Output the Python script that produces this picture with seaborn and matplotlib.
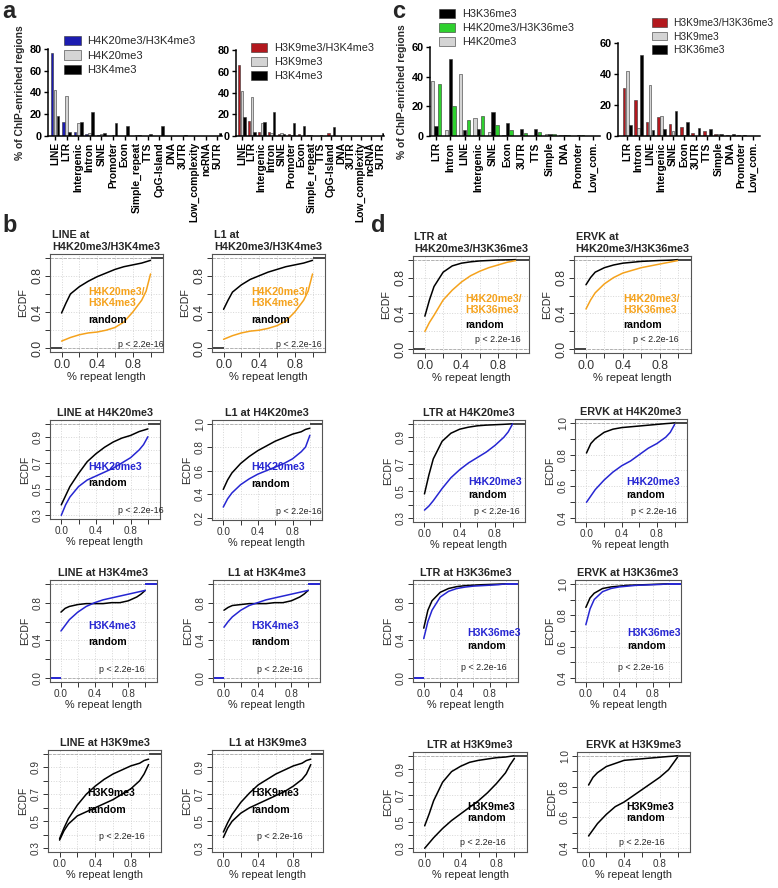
import matplotlib
matplotlib.use('Agg')
import matplotlib.pyplot as plt
import seaborn as sns
import pandas as pd
import numpy as np

# ---------------- panel a / c : % of ChIP-enriched regions ----------------
a_cats = ['LINE', 'LTR', 'Intergenic', 'Intron', 'SINE', 'Promoter', 'Exon',
          'Simple_repeat', 'TTS', 'CpG-Island', 'DNA', '3UTR', 'Low_complexity',
          'ncRNA', '5UTR']
a1_k20k4 = [76, 13, 4, 2, 1, 0.3, 0.2, 0.3, 0.1, 0.1, 0.1, 0.1, 0.1, 0, 0.1]
a1_k20 = [42, 37, 12, 3, 2, 0.5, 0.3, 1, 0.2, 0.2, 0.2, 0.2, 0.1, 0.1, 0.1]
a1_k4 = [18, 4, 13, 22, 2.5, 12, 9.5, 0.5, 1.5, 9, 0.3, 0.5, 0.3, 0.2, 2.5]
a2_k9k4 = [66, 14, 4, 4, 1.5, 2, 2, 0.5, 0.3, 2.5, 0.1, 0.1, 0.1, 0.2, 0.1]
a2_k9 = [42, 36, 12, 3, 2.5, 0.5, 0.3, 0.5, 1, 0.2, 0.2, 0.1, 0.1, 0.1, 0.1]
a2_k4 = [18, 4, 13, 22, 2, 12, 9, 0.3, 0.2, 8.5, 0.3, 0.3, 0.1, 0.1, 2.5]

c_cats = ['LTR', 'Intron', 'LINE', 'Intergenic', 'SINE', 'Exon', '3UTR', 'TTS',
          'Simple', 'DNA', 'Promoter', 'Low_com.']
c1_k20 = [37, 4, 42, 12, 2.5, 0.5, 0.3, 0.3, 1.5, 0.5, 0.3, 0.2]
c1_k36 = [7, 52, 4, 4.5, 16, 9, 5, 4.5, 1.5, 1, 0.5, 0.3]
c1_k20k36 = [35, 20, 11, 13.5, 7.5, 4, 2, 2.5, 1.5, 0.5, 0.5, 0.3]
c2_k9k36 = [31, 23, 9, 12, 8, 6, 2, 3, 1.5, 0.5, 0.5, 0.3]
c2_k9 = [42, 5, 33, 13, 3, 0.5, 0.3, 0.3, 1, 0.3, 0.3, 0.2]
c2_k36 = [7, 52, 4, 4.5, 16, 9, 5, 4.5, 1.5, 1, 0.5, 0.3]

# ---------------- panel b / d : ECDF of % repeat length ----------------
X_GRID = [0, 0.05, 0.1, 0.2, 0.3, 0.4, 0.5, 0.6, 0.7, 0.8, 0.9, 0.95, 1.0]

b_line_k20k4_rnd = [0.39, 0.5, 0.6, 0.68, 0.74, 0.79, 0.83, 0.87, 0.9, 0.92, 0.94, 0.955, 0.97]
b_line_k20k4_obs = [0.08, 0.1, 0.12, 0.15, 0.17, 0.18, 0.2, 0.23, 0.29, 0.4, 0.53, 0.63, 0.82]
b_l1_k20k4_rnd = [0.43, 0.53, 0.62, 0.7, 0.76, 0.8, 0.84, 0.87, 0.9, 0.92, 0.94, 0.955, 0.97]
b_l1_k20k4_obs = [0.1, 0.12, 0.14, 0.17, 0.19, 0.2, 0.22, 0.25, 0.3, 0.4, 0.53, 0.63, 0.82]
b_line_k20_rnd = [0.38, 0.45, 0.52, 0.62, 0.71, 0.77, 0.82, 0.86, 0.89, 0.91, 0.94, 0.95, 0.96]
b_line_k20_obs = [0.3, 0.38, 0.44, 0.52, 0.57, 0.6, 0.63, 0.66, 0.7, 0.74, 0.8, 0.84, 0.9]
b_l1_k20_rnd = [0.44, 0.52, 0.58, 0.66, 0.72, 0.77, 0.81, 0.85, 0.88, 0.91, 0.93, 0.95, 0.96]
b_l1_k20_obs = [0.29, 0.36, 0.41, 0.48, 0.53, 0.57, 0.6, 0.63, 0.66, 0.7, 0.76, 0.8, 0.9]
b_line_k4_rnd = [0.7, 0.74, 0.76, 0.78, 0.79, 0.79, 0.79, 0.8, 0.8, 0.82, 0.86, 0.89, 0.93]
b_line_k4_obs = [0.5, 0.56, 0.62, 0.7, 0.76, 0.8, 0.83, 0.85, 0.87, 0.89, 0.91, 0.92, 0.93]
b_l1_k4_rnd = [0.72, 0.75, 0.77, 0.78, 0.79, 0.79, 0.79, 0.8, 0.8, 0.82, 0.86, 0.89, 0.93]
b_l1_k4_obs = [0.54, 0.6, 0.65, 0.72, 0.77, 0.8, 0.83, 0.85, 0.87, 0.89, 0.91, 0.92, 0.93]
b_line_k9_rnd = [0.37, 0.45, 0.52, 0.62, 0.7, 0.76, 0.81, 0.85, 0.88, 0.91, 0.93, 0.95, 0.96]
b_line_k9_obs = [0.36, 0.43, 0.48, 0.54, 0.57, 0.6, 0.63, 0.66, 0.7, 0.74, 0.8, 0.85, 0.92]
b_l1_k9_rnd = [0.42, 0.49, 0.55, 0.64, 0.71, 0.77, 0.81, 0.85, 0.88, 0.91, 0.93, 0.95, 0.96]
b_l1_k9_obs = [0.38, 0.45, 0.5, 0.56, 0.6, 0.63, 0.66, 0.69, 0.72, 0.76, 0.81, 0.85, 0.92]

d_ltr_k20k36_rnd = [0.37, 0.55, 0.7, 0.86, 0.93, 0.96, 0.975, 0.985, 0.99, 0.995, 0.997, 0.998, 1.0]
d_ltr_k20k36_obs = [0.2, 0.3, 0.38, 0.55, 0.66, 0.75, 0.82, 0.87, 0.91, 0.94, 0.97, 0.98, 0.99]
d_ervk_k20k36_rnd = [0.72, 0.8, 0.86, 0.91, 0.94, 0.96, 0.97, 0.98, 0.985, 0.99, 0.993, 0.996, 1.0]
d_ervk_k20k36_obs = [0.45, 0.55, 0.63, 0.73, 0.8, 0.85, 0.88, 0.91, 0.93, 0.95, 0.97, 0.98, 0.99]
d_ltr_k20_rnd = [0.48, 0.62, 0.74, 0.87, 0.93, 0.96, 0.975, 0.985, 0.99, 0.993, 0.996, 0.998, 1.0]
d_ltr_k20_obs = [0.36, 0.39, 0.43, 0.52, 0.6, 0.66, 0.71, 0.75, 0.79, 0.84, 0.9, 0.94, 1.0]
d_ervk_k20_rnd = [0.81, 0.87, 0.9, 0.94, 0.96, 0.97, 0.975, 0.98, 0.985, 0.99, 0.995, 0.997, 1.0]
d_ervk_k20_obs = [0.5, 0.54, 0.58, 0.64, 0.69, 0.73, 0.76, 0.8, 0.84, 0.87, 0.91, 0.94, 0.99]
d_ltr_k36_rnd = [0.53, 0.72, 0.82, 0.91, 0.95, 0.97, 0.98, 0.985, 0.99, 0.993, 0.996, 0.998, 1.0]
d_ltr_k36_obs = [0.42, 0.6, 0.72, 0.86, 0.92, 0.95, 0.965, 0.975, 0.98, 0.985, 0.99, 0.995, 1.0]
d_ervk_k36_rnd = [0.85, 0.91, 0.94, 0.97, 0.98, 0.985, 0.99, 0.992, 0.994, 0.996, 0.998, 0.999, 1.0]
d_ervk_k36_obs = [0.74, 0.84, 0.9, 0.95, 0.97, 0.98, 0.985, 0.99, 0.992, 0.994, 0.996, 0.998, 1.0]
d_ltr_k9_rnd = [0.47, 0.56, 0.66, 0.8, 0.88, 0.92, 0.95, 0.965, 0.975, 0.985, 0.99, 0.995, 1.0]
d_ltr_k9_obs = [0.3, 0.34, 0.38, 0.45, 0.51, 0.56, 0.61, 0.66, 0.72, 0.79, 0.87, 0.93, 0.98]
d_ervk_k9_rnd = [0.81, 0.86, 0.89, 0.93, 0.95, 0.97, 0.975, 0.98, 0.985, 0.99, 0.995, 0.997, 1.0]
d_ervk_k9_obs = [0.48, 0.52, 0.56, 0.62, 0.67, 0.7, 0.74, 0.78, 0.82, 0.86, 0.91, 0.95, 0.99]

BLUE_BAR, RED_BAR, GREEN_BAR, GREY_BAR = '#1c1cb0', '#b3181e', '#2fd12f', '#d4d4d4'
ORANGE, BLUE = '#f5a21c', '#2626d2'

sns.set_theme(style='white')
plt.rcParams['font.family'] = ['Liberation Sans', 'DejaVu Sans']

W, H = 778, 888
fig = plt.figure(figsize=(W / 100, H / 100), dpi=100)


def box(x0, y0, x1, y1):
    # pixel box -> figure axes
    return fig.add_axes([x0 / W, 1 - y1 / H, (x1 - x0) / W, (y1 - y0) / H])


def bar_panel(ax, cats, names, values, colors, legend_order, ymax, xlim, leg_xy, ylabel, leg_fs=8):
    df = pd.DataFrame({
        'region': cats * len(names),
        'mark': [n for n in names for _ in cats],
        'pct': [v for vals in values for v in vals],
    })
    sns.barplot(data=df, x='region', y='pct', hue='mark', order=cats, hue_order=names,
                palette=dict(zip(names, colors)), width=0.8, gap=0.12, saturation=1,
                edgecolor='#333333', linewidth=0.4, ax=ax)
    h, l = ax.get_legend_handles_labels()
    ax.get_legend().remove()
    hd = dict(zip(l, h))
    ax.legend([hd[n] for n in legend_order], legend_order, loc='upper left',
              bbox_to_anchor=(leg_xy[0] / W, 1 - leg_xy[1] / H), bbox_transform=fig.transFigure,
              frameon=False, fontsize=leg_fs, handlelength=1.5, handleheight=0.9,
              labelspacing=0.35, handletextpad=0.6, borderpad=0, borderaxespad=0)
    ax.set_ylim(0, ymax)
    ax.set_xlim(*xlim)
    ax.set_yticks(range(0, ymax + 1, 20))
    ax.set_xticks(range(len(cats)))
    ax.set_xticklabels(cats, rotation=90, fontweight='bold', fontsize=7.4)
    for t in ax.get_yticklabels():
        t.set_fontweight('bold')
        t.set_fontsize(7.8)
    ax.set_xlabel('')
    ax.set_ylabel(ylabel, fontweight='bold', fontsize=7.4, labelpad=3)
    sns.despine(ax=ax)
    for s in ('left', 'bottom'):
        ax.spines[s].set_color('black')
        ax.spines[s].set_linewidth(1.1)
    ax.tick_params(direction='out', length=3, width=1, bottom=True, left=True, pad=1.5, colors='black')


YLAB = '% of ChIP-enriched regions'
bar_panel(box(48, 49, 222, 136), a_cats, ['H4K20me3/H3K4me3', 'H4K20me3', 'H3K4me3'],
          [a1_k20k4, a1_k20, a1_k4], [BLUE_BAR, GREY_BAR, 'black'],
          ['H4K20me3/H3K4me3', 'H4K20me3', 'H3K4me3'], 80, (-0.6, 14.4), (64, 36), YLAB)
bar_panel(box(236, 50, 384, 136), a_cats, ['H3K9me3/H3K4me3', 'H3K9me3', 'H3K4me3'],
          [a2_k9k4, a2_k9, a2_k4], [RED_BAR, GREY_BAR, 'black'],
          ['H3K9me3/H3K4me3', 'H3K9me3', 'H3K4me3'], 80, (-0.6, 14.35), (251, 43), '', 7.8)
bar_panel(box(430, 47, 600, 136), c_cats, ['H4K20me3', 'H3K36me3', 'H4K20me3/H3K36me3'],
          [c1_k20, c1_k36, c1_k20k36], [GREY_BAR, 'black', GREEN_BAR],
          ['H3K36me3', 'H4K20me3/H3K36me3', 'H4K20me3'], 60, (-0.42, 11.5), (439, 9), YLAB, 7.8)
bar_panel(box(618, 43, 760, 136), c_cats, ['H3K9me3/H3K36me3', 'H3K9me3', 'H3K36me3'],
          [c2_k9k36, c2_k9, c2_k36], [RED_BAR, GREY_BAR, 'black'],
          ['H3K9me3/H3K36me3', 'H3K9me3', 'H3K36me3'], 60, (-0.8, 11.6), (652, 18), '', 7.4)

# ---------------- ECDF panels ----------------
XT = [0, 0.2, 0.4, 0.6, 0.8, 1.0]
XTL = ['0.0', '', '0.4', '', '0.8', '']
YSCALES = {
    'full': ((-0.04, 1.04), [0, 0.2, 0.4, 0.6, 0.8, 1.0], ['0.0', '', '0.4', '', '0.8', '']),
    'p3': ((0.272, 1.028), [0.3, 0.4, 0.5, 0.6, 0.7, 0.8, 0.9, 1.0],
           ['0.3', '', '0.5', '', '0.7', '', '0.9', '']),
    'p2': ((0.18, 1.03), [0.2, 0.4, 0.6, 0.8, 1.0], ['0.2', '0.4', '0.6', '0.8', '1.0']),
    'p4': ((0.376, 1.024), [0.4, 0.5, 0.6, 0.7, 0.8, 0.9, 1.0],
           ['0.4', '', '0.6', '', '0.8', '', '1.0']),
}


def ecdf_panel(bx, title, mark, col, rnd, obs, yscale, txt, tail_col, big):
    ax = box(*bx)
    ylim, yt, ytl = YSCALES[yscale]
    xl = (-0.13, 1.14)
    ax.set_xlim(*xl)
    ax.set_ylim(*ylim)
    ax.grid(True, color='#d6d6d6', ls=':', lw=0.7)
    for y in (0, 1):
        ax.axhline(y, color='#a8a8a8', ls='--', lw=0.6, zorder=1)
    sns.lineplot(x=X_GRID, y=rnd, color='black', lw=1.1, ax=ax)
    sns.lineplot(x=X_GRID, y=obs, color=col, lw=1.1, ax=ax)
    ax.hlines(0, xl[0], X_GRID[0], color=tail_col, lw=1.4)
    ax.hlines(1, X_GRID[-1], xl[1], color=tail_col, lw=1.4)
    tick_fs = 8.8 if big else 7.2
    lab_fs = 8.0 if big else 7.8
    ax.set_xticks(XT)
    ax.set_xticklabels(XTL, fontsize=tick_fs)
    ax.set_yticks(yt)
    ax.set_yticklabels(ytl, fontsize=tick_fs, rotation=90, va='center')
    ax.tick_params(direction='out', length=3.5, width=0.7, bottom=True, left=True,
                   pad=1.5, colors='#333333')
    for s in ax.spines.values():
        s.set_color('#555555')
        s.set_linewidth(0.8)
    ax.set_xlabel('% repeat length', fontsize=lab_fs, labelpad=1)
    ax.set_ylabel('ECDF', fontsize=lab_fs - 0.3, labelpad=2)
    ax.set_title(title, fontsize=7.8, fontweight='bold', pad=3, multialignment='left')
    xm, ym, yr, xp, yp = txt
    ax.text(xm, ym, mark, transform=ax.transAxes, color=col, fontweight='bold',
            fontsize=7.6, ha='left', va='center', linespacing=1.15)
    ax.text(xm, yr, 'random', transform=ax.transAxes, color='black', fontweight='bold',
            fontsize=7.6, ha='left', va='center')
    ax.text(xp, yp, 'p < 2.2e-16', transform=ax.transAxes, color='#222222',
            fontsize=6.4, ha='center', va='center')


ecdf_panel((50, 254, 163, 352), 'LINE at\nH4K20me3/H3K4me3', 'H4K20me3/\nH3K4me3', ORANGE,
           b_line_k20k4_rnd, b_line_k20k4_obs, 'full', (0.34, 0.555, 0.33, 0.8, 0.08), '#444444', True)
ecdf_panel((212, 254, 325, 352), 'L1 at\nH4K20me3/H3K4me3', 'H4K20me3/\nH3K4me3', ORANGE,
           b_l1_k20k4_rnd, b_l1_k20k4_obs, 'full', (0.345, 0.555, 0.33, 0.77, 0.08), '#444444', True)
ecdf_panel((413, 256, 529, 353), 'LTR at\nH4K20me3/H3K36me3', 'H4K20me3/\nH3K36me3', ORANGE,
           d_ltr_k20k36_rnd, d_ltr_k20k36_obs, 'full', (0.45, 0.5, 0.29, 0.73, 0.14), '#444444', True)
ecdf_panel((574, 256, 691, 353), 'ERVK at\nH4K20me3/H3K36me3', 'H4K20me3/\nH3K36me3', ORANGE,
           d_ervk_k20k36_rnd, d_ervk_k20k36_obs, 'full', (0.42, 0.5, 0.29, 0.7, 0.14), '#444444', True)

ecdf_panel((50, 420, 160, 519), 'LINE at H4K20me3', 'H4K20me3', BLUE,
           b_line_k20_rnd, b_line_k20_obs, 'p3', (0.35, 0.53, 0.36, 0.83, 0.09), '#444444', False)
ecdf_panel((212, 420, 322, 520), 'L1 at H4K20me3', 'H4K20me3', BLUE,
           b_l1_k20_rnd, b_l1_k20_obs, 'p2', (0.36, 0.53, 0.36, 0.79, 0.09), '#444444', False)
ecdf_panel((413, 420, 525, 522), 'LTR at H4K20me3', 'H4K20me3', BLUE,
           d_ltr_k20_rnd, d_ltr_k20_obs, 'p3', (0.49, 0.39, 0.26, 0.75, 0.1), '#444444', False)
ecdf_panel((575, 419, 687, 522), 'ERVK at H4K20me3', 'H4K20me3', BLUE,
           d_ervk_k20_rnd, d_ervk_k20_obs, 'p4', (0.46, 0.39, 0.26, 0.7, 0.1), '#444444', False)

ecdf_panel((50, 580, 157, 682), 'LINE at H3K4me3', 'H3K4me3', BLUE,
           b_line_k4_rnd, b_line_k4_obs, 'full', (0.355, 0.55, 0.39, 0.67, 0.12), BLUE, False)
ecdf_panel((213, 580, 320, 682), 'L1 at H3K4me3', 'H3K4me3', BLUE,
           b_l1_k4_rnd, b_l1_k4_obs, 'full', (0.36, 0.55, 0.39, 0.62, 0.12), BLUE, False)
ecdf_panel((413, 580, 518, 682), 'LTR at H3K36me3', 'H3K36me3', BLUE,
           d_ltr_k36_rnd, d_ltr_k36_obs, 'full', (0.52, 0.48, 0.35, 0.67, 0.14), BLUE, False)
ecdf_panel((575, 580, 681, 682), 'ERVK at H3K36me3', 'H3K36me3', BLUE,
           d_ervk_k36_rnd, d_ervk_k36_obs, 'p4', (0.49, 0.48, 0.35, 0.62, 0.14), BLUE, False)

ecdf_panel((48, 750, 161, 852), 'LINE at H3K9me3', 'H3K9me3', 'black',
           b_line_k9_rnd, b_line_k9_obs, 'p3', (0.35, 0.58, 0.41, 0.65, 0.15), '#444444', False)
ecdf_panel((212, 750, 323, 852), 'L1 at H3K9me3', 'H3K9me3', 'black',
           b_l1_k9_rnd, b_l1_k9_obs, 'p3', (0.35, 0.58, 0.41, 0.61, 0.15), '#444444', False)
ecdf_panel((413, 752, 527, 852), 'LTR at H3K9me3', 'H3K9me3', 'black',
           d_ltr_k9_rnd, d_ltr_k9_obs, 'p3', (0.48, 0.45, 0.34, 0.61, 0.1), '#444444', False)
ecdf_panel((577, 752, 690, 852), 'ERVK at H3K9me3', 'H3K9me3', 'black',
           d_ervk_k9_rnd, d_ervk_k9_obs, 'p4', (0.44, 0.45, 0.34, 0.57, 0.1), '#444444', False)

# panel letters
for letter, px, py in [('a', 2, 0), ('c', 392, 0), ('b', 2, 214), ('d', 371, 214)]:
    fig.text(px / W, 1 - py / H, letter, fontsize=17, fontweight='bold', ha='left', va='top')

fig.savefig('out.png', dpi=100)
